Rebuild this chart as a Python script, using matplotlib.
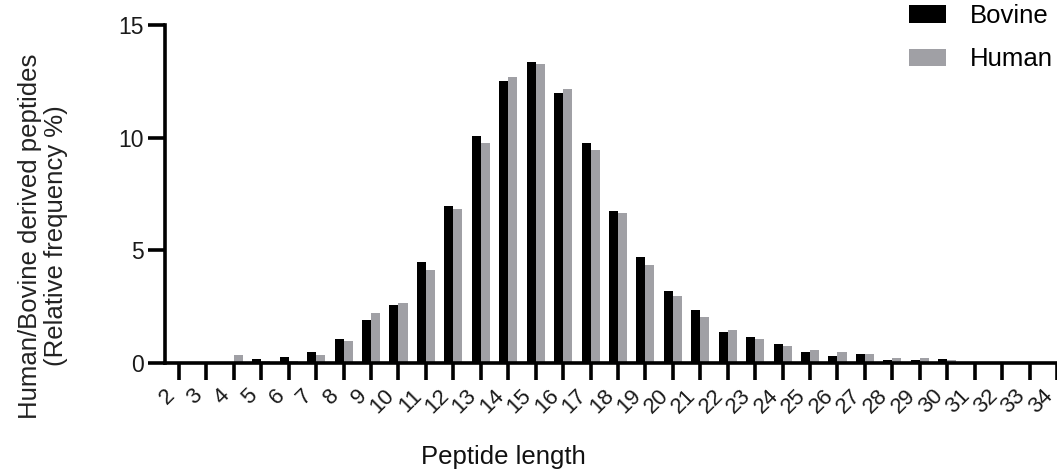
import numpy as np
import matplotlib
matplotlib.use("Agg")
import matplotlib.pyplot as plt
from matplotlib.transforms import ScaledTranslation

plt.rcParams['font.family'] = ['Liberation Sans', 'DejaVu Sans']

# peptide length distribution (relative frequency %)
lengths = list(range(2, 35))
bovine = [0, 0, 0, 0.16, 0.28, 0.47, 1.06, 1.90, 2.56, 4.47, 6.98, 10.06, 12.53,
          13.37, 11.98, 9.78, 6.73, 4.72, 3.19, 2.35, 1.36, 1.16, 0.83, 0.47,
          0.32, 0.38, 0.13, 0.15, 0.17, 0.03, 0.01, 0, 0]
human = [0, 0, 0.35, 0.10, 0.10, 0.34, 0.99, 2.24, 2.66, 4.12, 6.82, 9.78, 12.70,
         13.29, 12.17, 9.47, 6.65, 4.34, 2.97, 2.02, 1.46, 1.06, 0.75, 0.56,
         0.47, 0.38, 0.23, 0.20, 0.15, 0.05, 0.01, 0, 0]
series = ['Bovine', 'Human']
yticks = [0, 5, 10, 15]

W, H = 1057, 472
fig = plt.figure(figsize=(W / 100, H / 100), dpi=100)
ax = fig.add_axes([165 / W, 1 - 363 / H, 892 / W, 338 / H])

x = np.array(lengths)
w = 0.33
ax.bar(x - w / 2, bovine, width=w, color='black', label=series[0], zorder=2)
ax.bar(x + w / 2, human, width=w, color='#a0a0a5', label=series[1], zorder=2)

ax.set_xlim(1.49, 34.0)
ax.set_ylim(0, 15)
ax.set_yticks(yticks)
ax.set_xticks(lengths)
ax.set_xticklabels([str(v) for v in lengths], rotation=45, ha='right', va='top')
# nudge rotated labels a little to the right, as in the original
shift = ScaledTranslation(5 / 100, -2 / 100, fig.dpi_scale_trans)
for lab in ax.get_xticklabels():
    lab.set_transform(lab.get_transform() + shift)

for s in ['top', 'right']:
    ax.spines[s].set_visible(False)
for s in ['left', 'bottom']:
    ax.spines[s].set_linewidth(2.6)
    ax.spines[s].set_zorder(3)
ax.tick_params(axis='both', length=12, width=2.6, colors='black',
               labelcolor='#1a1a1a')
ax.tick_params(axis='y', pad=3, labelsize=16.5)
ax.tick_params(axis='x', pad=4, labelsize=16)

fig.text(503 / W, 1 - 457 / H, 'Peptide length', fontsize=18.5,
         ha='center', va='center', color='#111111')
fig.text(43 / W, 1 - 236 / H,
         'Human/Bovine derived peptides\n(Relative frequency %)',
         fontsize=18.5, rotation=90, ha='center', va='center',
         multialignment='center', linespacing=1.15, color='#222222')

ax.legend(loc='upper left', bbox_to_anchor=(909 / W, 1 - 4 / H),
          bbox_transform=fig.transFigure, frameon=False, fontsize=18.5,
          handlelength=1.45, handleheight=0.65, handletextpad=0.9,
          labelspacing=0.75, borderpad=0, borderaxespad=0)

fig.savefig('out.png', dpi=100)
